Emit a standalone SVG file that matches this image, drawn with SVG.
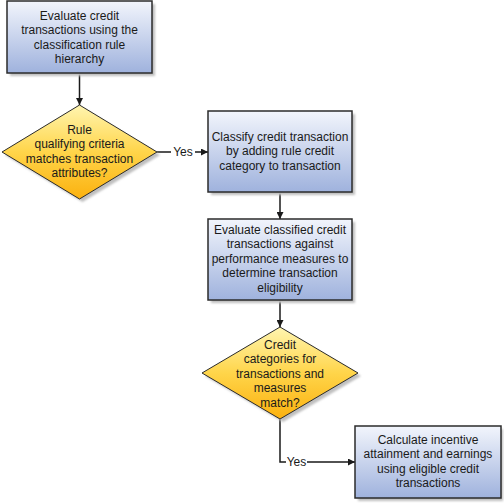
<svg xmlns="http://www.w3.org/2000/svg" width="504" height="503" viewBox="0 0 504 503">
<defs>
<linearGradient id="gBox" x1="0" y1="0" x2="0" y2="1">
<stop offset="0" stop-color="#f2f5fc"/>
<stop offset="1" stop-color="#9fb2dd"/>
</linearGradient>
<linearGradient id="gDia" x1="0" y1="0" x2="0" y2="1">
<stop offset="0" stop-color="#fff5b0"/>
<stop offset="0.5" stop-color="#ffd54a"/>
<stop offset="1" stop-color="#fbb10f"/>
</linearGradient>
<filter id="sh" x="-10%" y="-10%" width="130%" height="130%">
<feGaussianBlur stdDeviation="0.8"/>
</filter>
<marker id="arr" viewBox="0 0 10 10" refX="10" refY="5" markerWidth="7" markerHeight="7" markerUnits="userSpaceOnUse" orient="auto">
<path d="M0,0 L10,5 L0,10 Z" fill="#1a1a1a"/>
</marker>
</defs>
<style>
.box{fill:url(#gBox);stroke:#2b2b2b;stroke-width:1.5}
.dia{fill:url(#gDia);stroke:#2b2b2b;stroke-width:1}
.shd{fill:#bfbfbf;filter:url(#sh)}
.t{font-family:"Liberation Sans",Arial,sans-serif;font-size:12px;fill:#1a1a1a;text-anchor:middle}
.c{fill:none;stroke:#1a1a1a;stroke-width:1.5}
</style>
<rect width="504" height="503" fill="#ffffff"/>

<g id="connectors">
<path class="c" d="M79.5,73 V105" marker-end="url(#arr)"/>
<path class="c" d="M157,152 H171 M195,152 H208" marker-end="url(#arr)"/>
<text class="t" x="183" y="156">Yes</text>
<path class="c" d="M280,192 V219" marker-end="url(#arr)"/>
<path class="c" d="M280,300 V327" marker-end="url(#arr)"/>
<path class="c" d="M280,419 V462 H286 M307,462 H355" marker-end="url(#arr)"/>
<text class="t" x="296.5" y="466">Yes</text>
</g>

<g id="n1">
<rect class="shd" x="10" y="4" width="145" height="72"/>
<rect class="box" x="7" y="1" width="145" height="72"/>
<text class="t" x="79.5" y="20">Evaluate credit</text>
<text class="t" x="79.5" y="34.4">transactions using the</text>
<text class="t" x="79.5" y="48.8">classification rule</text>
<text class="t" x="79.5" y="63.2">hierarchy</text>
</g>

<g id="d1">
<polygon class="shd" points="82.5,108 160,155 82.5,202 5,155"/>
<polygon class="dia" points="79.5,105 157,152 79.5,199 2,152"/>
<text class="t" x="79.5" y="134">Rule</text>
<text class="t" x="79.5" y="148.4">qualifying criteria</text>
<text class="t" x="79.5" y="162.8">matches transaction</text>
<text class="t" x="79.5" y="177.2">attributes?</text>
</g>

<g id="n2">
<rect class="shd" x="211" y="114" width="144" height="81"/>
<rect class="box" x="208" y="111" width="144" height="81"/>
<text class="t" x="280" y="141">Classify credit transaction</text>
<text class="t" x="280" y="155.4">by adding rule credit</text>
<text class="t" x="280" y="169.8">category to transaction</text>
</g>

<g id="n3">
<rect class="shd" x="211" y="222" width="144" height="81"/>
<rect class="box" x="208" y="219" width="144" height="81"/>
<text class="t" x="280" y="234">Evaluate classified credit</text>
<text class="t" x="280" y="248.4">transactions against</text>
<text class="t" x="280" y="262.8">performance measures to</text>
<text class="t" x="280" y="277.2">determine transaction</text>
<text class="t" x="280" y="291.6">eligibility</text>
</g>

<g id="d2">
<polygon class="shd" points="283,330 361,376 283,422 205,376"/>
<polygon class="dia" points="280,327 358,373 280,419 202,373"/>
<text class="t" x="280" y="349">Credit</text>
<text class="t" x="280" y="363.4">categories for</text>
<text class="t" x="280" y="377.8">transactions and</text>
<text class="t" x="280" y="392.2">measures</text>
<text class="t" x="280" y="406.6">match?</text>
</g>

<g id="n4">
<rect class="shd" x="358" y="429" width="145" height="72"/>
<rect class="box" x="355" y="426" width="146" height="72"/>
<text class="t" x="428" y="444">Calculate incentive</text>
<text class="t" x="428" y="458.4">attainment and earnings</text>
<text class="t" x="428" y="472.8">using eligible credit</text>
<text class="t" x="428" y="487.2">transactions</text>
</g>
</svg>
